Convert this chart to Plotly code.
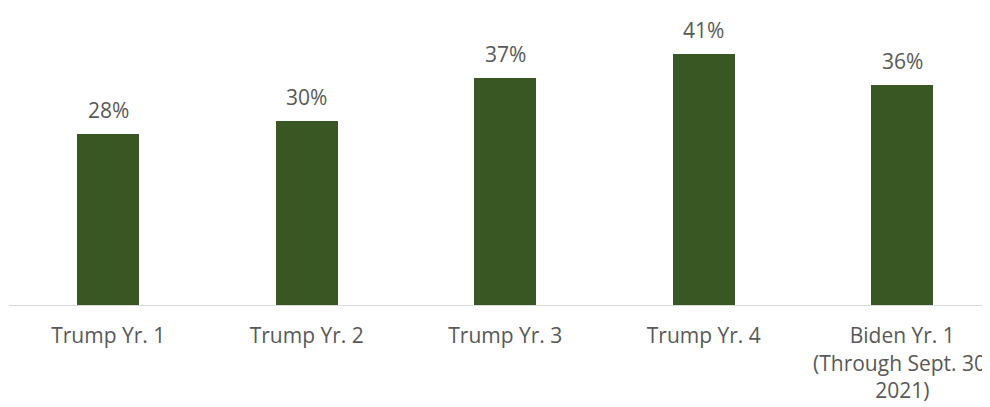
import plotly.graph_objects as go

categories = ["Trump Yr. 1", "Trump Yr. 2", "Trump Yr. 3", "Trump Yr. 4", "Biden Yr. 1"]
tick_labels = ["Trump Yr. 1", "Trump Yr. 2", "Trump Yr. 3", "Trump Yr. 4",
               "Biden Yr. 1<br>(Through Sept. 30,<br>2021)"]
values = [28, 30, 37, 41, 36]
value_labels = ["28%", "30%", "37%", "41%", "36%"]

BAR = "#385723"
TXT = "#595959"
FONT = "Open Sans"

fig = go.Figure()
fig.add_trace(go.Bar(
    x=list(range(len(categories))),
    y=values,
    width=0.312,
    marker=dict(color=BAR, line=dict(width=0)),
    hoverinfo="skip",
))

for i, (v, lab) in enumerate(zip(values, value_labels)):
    fig.add_annotation(x=i, y=v, text=lab, showarrow=False, yanchor="bottom",
                       yshift=8, font=dict(family=FONT, size=21, color=TXT))

fig.update_layout(
    width=982, height=399,
    margin=dict(l=1, r=0, t=0, b=102, autoexpand=False),
    paper_bgcolor="white", plot_bgcolor="white",
    showlegend=False,
    bargap=0,
    xaxis=dict(range=[-0.5, 4.442], tickmode="array",
               tickvals=list(range(len(categories))), ticktext=tick_labels,
               showline=True, linecolor="#d9d9d9", linewidth=1,
               showgrid=False, zeroline=False, ticks="",
               automargin=False,
               ticklabeloverflow="allow",
               ticklabelstandoff=12,
               tickfont=dict(family=FONT, size=21, color=TXT)),
    yaxis=dict(range=[0, 48.5], visible=False, showgrid=False, zeroline=False,
               automargin=False),
)

fig.write_html("out.html")
